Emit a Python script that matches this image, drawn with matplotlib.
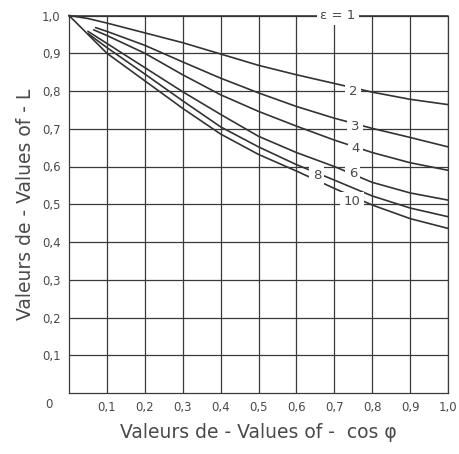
import matplotlib
matplotlib.use("Agg")
import matplotlib.pyplot as plt

# ---- data ----
x_eps2 = [0.0, 0.05, 0.1, 0.2, 0.3, 0.4, 0.5, 0.6, 0.7, 0.8, 0.9, 1.0]
L_eps2 = [1.0, 0.992, 0.980, 0.954, 0.928, 0.898, 0.868, 0.843, 0.820, 0.797, 0.778, 0.764]

x_eps3 = [0.07, 0.1, 0.2, 0.3, 0.4, 0.5, 0.6, 0.7, 0.8, 0.9, 1.0]
L_eps3 = [0.968, 0.958, 0.921, 0.877, 0.834, 0.795, 0.759, 0.728, 0.701, 0.677, 0.652]

x_eps4 = [0.065, 0.1, 0.2, 0.3, 0.4, 0.5, 0.6, 0.7, 0.8, 0.9, 1.0]
L_eps4 = [0.962, 0.947, 0.900, 0.843, 0.790, 0.746, 0.707, 0.670, 0.637, 0.610, 0.590]

x_eps6 = [0.05, 0.1, 0.2, 0.3, 0.4, 0.5, 0.6, 0.7, 0.8, 0.9, 1.0]
L_eps6 = [0.958, 0.926, 0.862, 0.798, 0.738, 0.680, 0.637, 0.600, 0.558, 0.530, 0.511]

x_eps8 = [0.05, 0.1, 0.2, 0.3, 0.4, 0.5, 0.6, 0.7, 0.8, 0.9, 1.0]
L_eps8 = [0.952, 0.915, 0.845, 0.774, 0.705, 0.652, 0.605, 0.564, 0.522, 0.490, 0.467]

x_eps10 = [0.0, 0.05, 0.1, 0.2, 0.3, 0.4, 0.5, 0.6, 0.7, 0.8, 0.9, 1.0]
L_eps10 = [1.0, 0.950, 0.900, 0.827, 0.754, 0.686, 0.632, 0.588, 0.542, 0.498, 0.462, 0.436]

x_eps1 = [0.0, 1.0]
L_eps1 = [1.0, 1.0]

curve_labels = ["ε = 1", "2", "3", "4", "6", "8", "10"]
label_x = [0.71, 0.749, 0.755, 0.755, 0.749, 0.654, 0.746]
label_y = [1.0, 0.799, 0.705, 0.648, 0.582, 0.577, 0.507]

x_ticks = [0.1, 0.2, 0.3, 0.4, 0.5, 0.6, 0.7, 0.8, 0.9, 1.0]
x_ticklabels = ["0,1", "0,2", "0,3", "0,4", "0,5", "0,6", "0,7", "0,8", "0,9", "1,0"]
y_ticks = [0.1, 0.2, 0.3, 0.4, 0.5, 0.6, 0.7, 0.8, 0.9, 1.0]
y_ticklabels = ["0,1", "0,2", "0,3", "0,4", "0,5", "0,6", "0,7", "0,8", "0,9", "1,0"]

# ---- figure ----
fig = plt.figure(figsize=(4.59, 4.54), dpi=100)
ax = fig.add_axes([69 / 459, 1 - 393 / 454, 379 / 459, 377.5 / 454])
ax.set_xlim(0, 1.0)
ax.set_ylim(0, 1.0)

grid_c = "#3a3a3a"
curve_c = "#333333"
text_c = "#4a4a4a"

ax.set_xticks(x_ticks)
ax.set_yticks(y_ticks)
ax.set_xticklabels(x_ticklabels)
ax.set_yticklabels(y_ticklabels)
ax.tick_params(length=0, labelsize=8.5, labelcolor=text_c)
ax.tick_params(axis="x", pad=6)
ax.tick_params(axis="y", pad=6)
ax.grid(True, color=grid_c, linewidth=0.9)
ax.set_axisbelow(True)
for s in ["left", "bottom", "right"]:
    ax.spines[s].set_color(grid_c)
    ax.spines[s].set_linewidth(0.9)
ax.spines["top"].set_visible(False)

series = [(x_eps1, L_eps1), (x_eps2, L_eps2), (x_eps3, L_eps3), (x_eps4, L_eps4),
          (x_eps6, L_eps6), (x_eps8, L_eps8), (x_eps10, L_eps10)]
for xs, ys in series:
    ax.plot(xs, ys, color=curve_c, linewidth=1.2, clip_on=False, zorder=3,
            solid_joinstyle="round", solid_capstyle="round")

for lab, lx, ly in zip(curve_labels, label_x, label_y):
    ax.text(lx, ly, lab, fontsize=9.5, color=text_c, ha="center", va="center",
            zorder=5, clip_on=False,
            bbox=dict(facecolor="white", edgecolor="none", pad=2.5))

ax.text(-0.053, -0.03, "0", fontsize=8.5, color=text_c, ha="center", va="center")

ax.set_xlabel("Valeurs de - Values of -  cos φ", fontsize=13.5, color=text_c, labelpad=6)
ax.set_ylabel("Valeurs de - Values of - L", fontsize=13.5, color=text_c, labelpad=5)

fig.savefig("out.png", dpi=100, facecolor="white")
